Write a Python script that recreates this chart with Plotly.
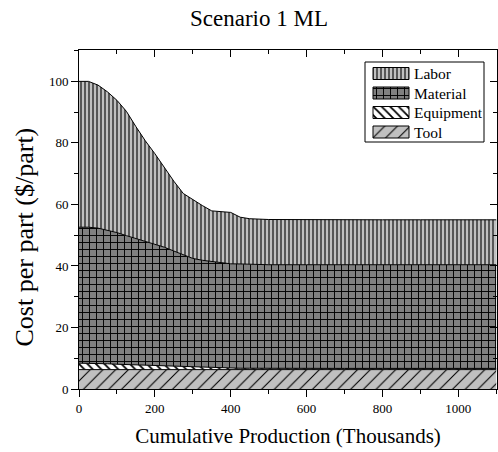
import plotly.graph_objects as go

# Cumulative production (thousands of parts)
production = [0, 25, 50, 75, 100, 125, 150, 175, 200, 225, 250, 275, 300,
              325, 350, 375, 400, 425, 450, 500, 600, 700, 800, 900, 1000, 1100]

# Cost components ($/part), stacked bottom to top: tool, equipment, material, labor
tool_cost = [6.3] * 26
equipment_cost = [2.1, 2.1, 2.0, 1.9, 1.75, 1.65, 1.5, 1.35, 1.2, 1.1, 0.95, 0.85, 0.75,
                  0.65, 0.6, 0.55, 0.5, 0.45, 0.45, 0.4, 0.4, 0.4, 0.4, 0.4, 0.4, 0.4]
material_cost = [44.2, 44.2, 44.0, 43.5, 42.8, 41.9, 41.1, 40.3, 39.5, 38.7, 37.6, 36.4, 35.4,
                 34.9, 34.5, 34.2, 33.9, 33.9, 33.8, 33.7, 33.7, 33.7, 33.7, 33.7, 33.7, 33.7]
labor_cost = [47.4, 47.4, 46.5, 44.9, 43.0, 40.4, 36.4, 32.7, 29.5, 25.9, 22.7, 20.0, 19.1,
              17.8, 16.5, 16.6, 16.7, 15.2, 14.8, 14.7, 14.6, 14.6, 14.6, 14.6, 14.6, 14.6]

x_ticks = [0, 200, 400, 600, 800, 1000]
y_ticks = [0, 20, 40, 60, 80, 100]

FONT = "Liberation Serif"
X_RANGE = [0, 1102]
Y_RANGE = [0, 110.2]

# figure geometry in pixels
W, H = 498, 452
ML, MR, MT, MB = 79, 1, 50, 63
PLOT_W, PLOT_H = W - ML - MR, H - MT - MB

series = [
    ("Tool", tool_cost, dict(shape="/", bgcolor="#c0c0c0", fgcolor="#000000", size=9, solidity=0.12)),
    ("Equipment", equipment_cost, dict(shape="\\", bgcolor="#ffffff", fgcolor="#000000", size=6, solidity=0.3)),
    ("Material", material_cost, dict(shape="+", bgcolor="#808080", fgcolor="#000000", size=7, solidity=0.25)),
    ("Labor", labor_cost, dict(shape="|", bgcolor="#c0c0c0", fgcolor="#2a2a2a", size=4, solidity=0.35)),
]

fig = go.Figure()
for name, values, pattern in series:
    fig.add_trace(go.Scatter(
        x=production, y=values, name=name, mode="lines",
        stackgroup="cost", line=dict(color="black", width=1),
        fillcolor=pattern["bgcolor"], fillpattern=dict(fillmode="replace", **pattern),
        showlegend=False,
    ))

# invisible trace carrying the mirrored top/right axes
fig.add_trace(go.Scatter(x=[None], y=[None], xaxis="x2", yaxis="y2",
                         showlegend=False, hoverinfo="skip"))

# Legend box drawn on a pixel-scaled helper axis (x3/y3 map to screen pixels)
LEG_LEFT, LEG_RIGHT, LEG_TOP, LEG_BOTTOM = 365, 484, 62, 142
SW_LEFT, SW_RIGHT, SW_HALF = 373, 409, 6
TEXT_X = 412
ROW_Y = [73.5, 93, 112.5, 132]

for (name, _, pattern), yc in zip(reversed(series), ROW_Y):
    fig.add_trace(go.Scatter(
        x=[SW_LEFT, SW_RIGHT, SW_RIGHT, SW_LEFT, SW_LEFT],
        y=[yc - SW_HALF, yc - SW_HALF, yc + SW_HALF, yc + SW_HALF, yc - SW_HALF],
        mode="lines", fill="toself", line=dict(color="black", width=1),
        fillcolor=pattern["bgcolor"], fillpattern=dict(fillmode="replace", **pattern),
        xaxis="x3", yaxis="y3", showlegend=False, hoverinfo="skip",
    ))
    fig.add_annotation(x=TEXT_X, y=yc, xref="x3", yref="y3", text=name,
                       showarrow=False, xanchor="left", yanchor="middle",
                       font=dict(family=FONT, size=15.5, color="black"))

fig.add_shape(type="rect", xref="x3", yref="y3",
              x0=LEG_LEFT, x1=LEG_RIGHT, y0=LEG_TOP, y1=LEG_BOTTOM,
              line=dict(color="black", width=1), fillcolor="rgba(0,0,0,0)", layer="above")

# y-axis title, placed as a rotated label left of the tick labels (paper coordinates)
YT_X_PX, YT_Y_PX = 24, 237.5
fig.add_annotation(x=(YT_X_PX - ML) / PLOT_W, y=(H - MB - YT_Y_PX) / PLOT_H,
                   xref="paper", yref="paper", text="Cost per part ($/part)",
                   textangle=-90, showarrow=False, xanchor="center", yanchor="middle",
                   font=dict(family=FONT, size=26, color="black"))

axis_common = dict(showline=True, linecolor="black", linewidth=1, showgrid=False,
                   zeroline=False, tickcolor="black", tickwidth=1, ticklen=7)
tick_font = dict(size=13, family=FONT, color="black")

fig.update_layout(
    width=W, height=H,
    margin=dict(l=ML, r=MR, t=MT, b=MB),
    paper_bgcolor="white", plot_bgcolor="white",
    font=dict(family=FONT, color="black"),
    title=dict(text="Scenario 1 ML", x=190 / W, xref="container", xanchor="left",
               y=1 - 18.3 / H, yref="container", yanchor="middle",
               font=dict(size=23, family=FONT, color="black")),
    xaxis=dict(range=X_RANGE, tickvals=x_ticks, ticks="outside",
               minor=dict(dtick=100, tick0=0, ticks="outside", ticklen=4, tickcolor="black"),
               tickfont=tick_font,
               title=dict(text="Cumulative Production (Thousands)",
                          font=dict(size=21, family=FONT), standoff=13),
               **axis_common),
    yaxis=dict(range=Y_RANGE, tickvals=y_ticks, ticks="outside",
               minor=dict(dtick=10, tick0=0, ticks="outside", ticklen=4, tickcolor="black"),
               tickfont=tick_font,
               **axis_common),
    xaxis2=dict(range=X_RANGE, overlaying="x", side="top", tickvals=x_ticks, ticks="inside",
                showticklabels=False,
                minor=dict(dtick=100, tick0=0, ticks="inside", ticklen=4, tickcolor="black"),
                **axis_common),
    yaxis2=dict(range=Y_RANGE, overlaying="y", side="right", tickvals=y_ticks, ticks="inside",
                showticklabels=False,
                minor=dict(dtick=10, tick0=0, ticks="inside", ticklen=4, tickcolor="black"),
                **axis_common),
    xaxis3=dict(range=[ML, W - MR], overlaying="x", visible=False, fixedrange=True),
    yaxis3=dict(range=[H - MB, MT], overlaying="y", visible=False, fixedrange=True),
    showlegend=False,
)

fig.write_html("out.html")
